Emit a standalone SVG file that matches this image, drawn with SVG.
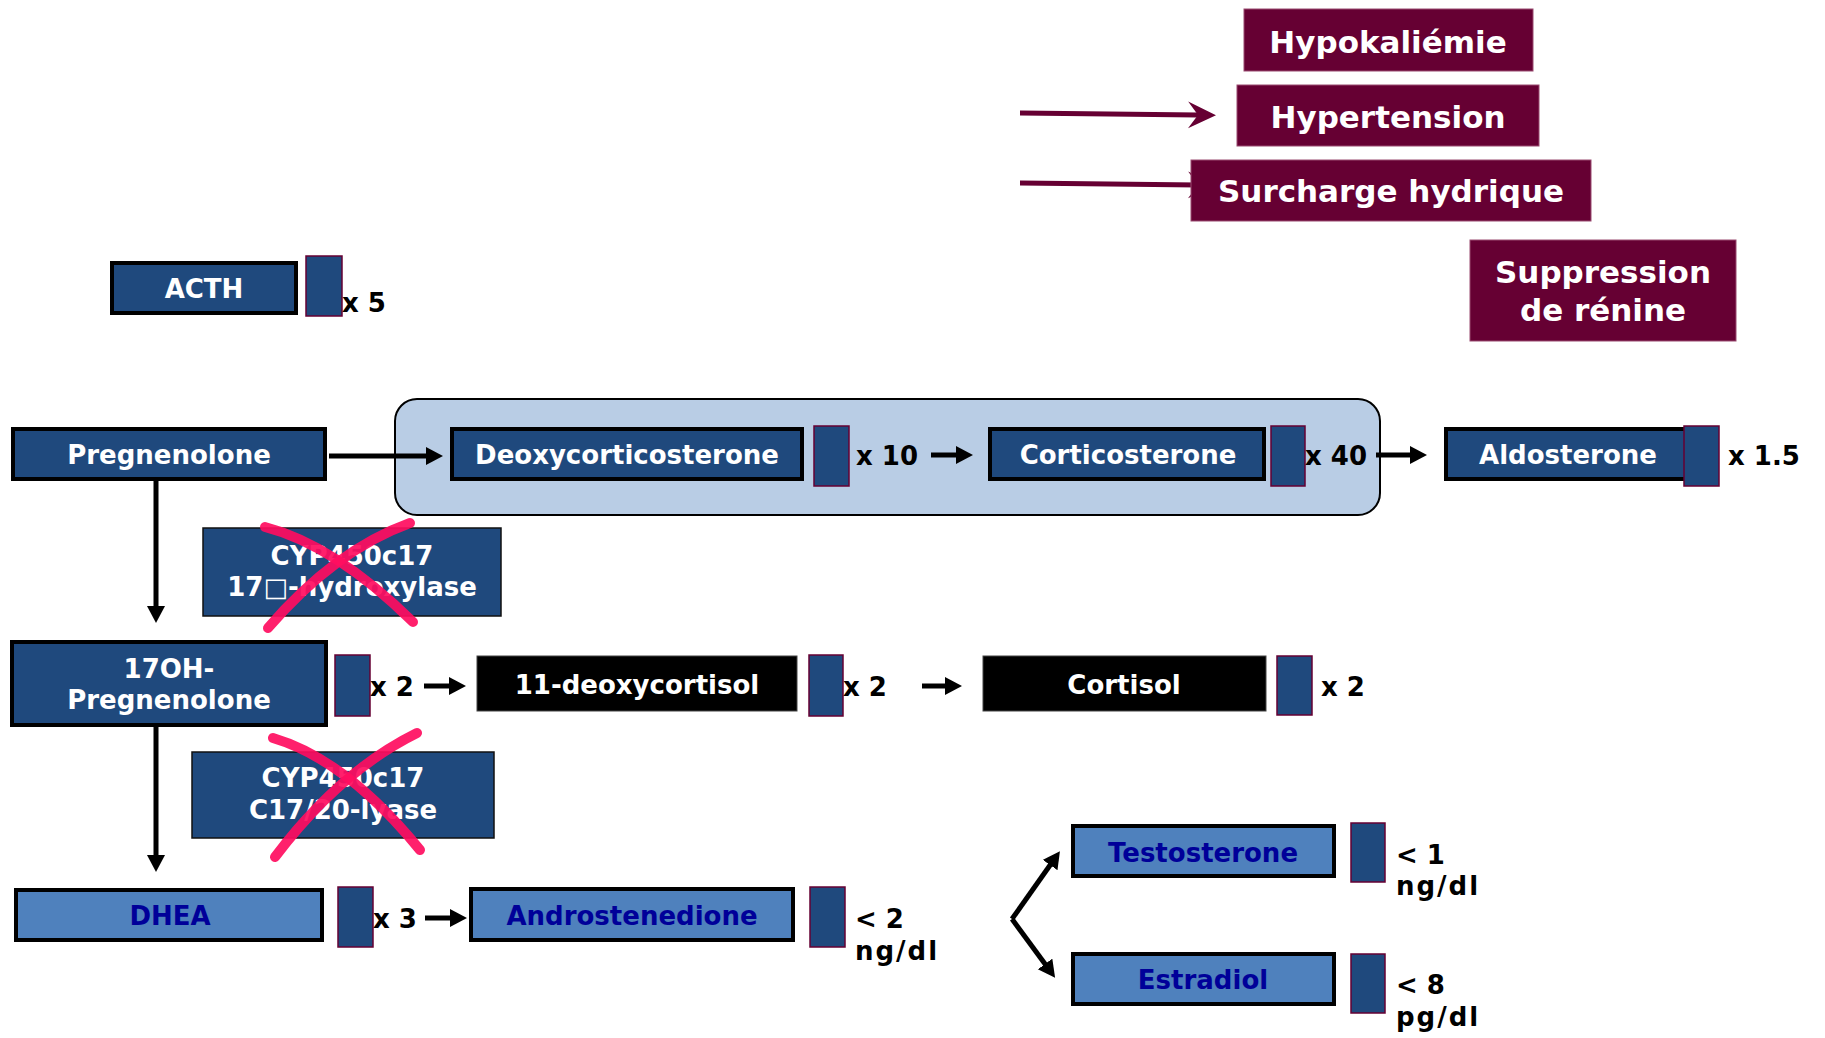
<svg xmlns="http://www.w3.org/2000/svg" width="1825" height="1038" viewBox="0 0 1825 1038">
<style>
text{font-family:"DejaVu Sans","Verdana",sans-serif;font-weight:bold;}
.t26{font-size:26px;}
.t31{font-size:31px;fill:#fff;text-anchor:middle;}
.w{fill:#fff;text-anchor:middle;}
.nv{fill:#000099;text-anchor:middle;}
.k{fill:#000;}
.sp{letter-spacing:2px;}
.dark{fill:#1F497D;stroke:#000;stroke-width:4;}
.light{fill:#4F81BD;stroke:#000;stroke-width:4;}
.enz{fill:#1F497D;stroke:#111;stroke-width:1.5;}
.blk{fill:#000;stroke:#444;stroke-width:1;}
.sq{fill:#1F497D;stroke:#660033;stroke-width:1.5;}
.mar{fill:#660033;stroke:#9A4A70;stroke-width:1;}
.conn{stroke:#000;stroke-width:5;fill:none;marker-end:url(#ah);}
.mconn{stroke:#660033;stroke-width:5;fill:none;marker-end:url(#mh);}
.cross{stroke:#FF0D5F;stroke-width:10;stroke-linecap:round;fill:none;opacity:0.92;}
</style>
<defs>
<marker id="ah" markerUnits="userSpaceOnUse" markerWidth="20" markerHeight="20" refX="5" refY="9" orient="auto">
<path d="M0,0 L17,9 L0,18 z" fill="#000"/>
</marker>
<marker id="mh" markerUnits="userSpaceOnUse" markerWidth="30" markerHeight="30" refX="10" refY="13.5" orient="auto">
<path d="M0,0 L28,13.5 L0,27 L10,13.5 z" fill="#660033"/>
</marker>
</defs>

<rect id="container" x="395" y="399" width="985" height="116" rx="22" ry="22" fill="#B9CDE5" stroke="#000" stroke-width="2"/>

<g id="connectors">
<line class="mconn" x1="1020" y1="113" x2="1198" y2="115"/>
<line class="mconn" x1="1020" y1="183" x2="1198" y2="185"/>
<line class="conn" x1="329" y1="456" x2="431" y2="456"/>
<line class="conn" x1="931" y1="455" x2="961" y2="455"/>
<line class="conn" x1="1376" y1="455" x2="1415" y2="455"/>
<line class="conn" x1="156" y1="481" x2="156" y2="611"/>
<line class="conn" x1="156" y1="727" x2="156" y2="860"/>
<line class="conn" x1="424" y1="686" x2="454" y2="686"/>
<line class="conn" x1="922" y1="686" x2="950" y2="686"/>
<line class="conn" x1="425" y1="918" x2="455" y2="918"/>
<line class="conn" x1="1012" y1="919" x2="1053" y2="861"/>
<line class="conn" x1="1012" y1="919" x2="1048" y2="968"/>
</g>

<g id="hypokaliemie"><rect class="mar" x="1244" y="9" width="289" height="62"/><text class="t31" x="1388" y="53">Hypokaliémie</text></g>
<g id="hypertension"><rect class="mar" x="1237" y="85" width="302" height="61"/><text class="t31" x="1388" y="128">Hypertension</text></g>
<g id="surcharge"><rect class="mar" x="1191" y="160" width="400" height="61"/><text class="t31" x="1391" y="202">Surcharge hydrique</text></g>
<g id="suppression"><rect class="mar" x="1470" y="240" width="266" height="101"/><text class="t31" x="1603" y="283">Suppression</text><text class="t31" x="1603" y="321">de rénine</text></g>

<g id="acth"><rect class="dark" x="112" y="263" width="184" height="50"/><text class="t26 w" x="204" y="298">ACTH</text><rect class="sq" x="306" y="256" width="36" height="60"/><text class="t26 k" x="342" y="312">x 5</text></g>

<g id="pregnenolone"><rect class="dark" x="13" y="429" width="312" height="50"/><text class="t26 w" x="169" y="464">Pregnenolone</text></g>

<g id="deoxycorticosterone"><rect class="dark" x="452" y="429" width="350" height="50"/><text class="t26 w" x="627" y="464">Deoxycorticosterone</text><rect class="sq" x="814" y="426" width="35" height="60"/><text class="t26 k" x="856" y="465">x 10</text></g>

<g id="corticosterone"><rect class="dark" x="990" y="429" width="274" height="50"/><text class="t26 w" x="1128" y="464">Corticosterone</text><rect class="sq" x="1271" y="426" width="34" height="60"/><text class="t26 k" x="1305" y="465">x 40</text></g>

<g id="aldosterone"><rect class="dark" x="1446" y="429" width="240" height="50"/><text class="t26 w" x="1568" y="464">Aldosterone</text><rect class="sq" x="1684" y="426" width="35" height="60"/><text class="t26 k" x="1728" y="465">x 1.5</text></g>

<g id="cyp-hydroxylase"><rect class="enz" x="203" y="528" width="298" height="88"/><text class="t26 w" x="352" y="565">CYP450c17</text><text class="t26 w" x="352" y="596">17□-hydroxylase</text>
<path class="cross" d="M265,527 Q335,545 413,622"/><path class="cross" d="M410,523 Q335,550 268,628"/></g>

<g id="oh-pregnenolone"><rect class="dark" x="12" y="642" width="314" height="83"/><text class="t26 w" x="169" y="678">17OH-</text><text class="t26 w" x="169" y="709">Pregnenolone</text><rect class="sq" x="335" y="655" width="35" height="61"/><text class="t26 k" x="370" y="696">x 2</text></g>

<g id="deoxycortisol"><rect class="blk" x="477" y="656" width="320" height="55"/><text class="t26 w" x="637" y="694">11-deoxycortisol</text><rect class="sq" x="809" y="655" width="34" height="61"/><text class="t26 k" x="843" y="696">x 2</text></g>

<g id="cortisol"><rect class="blk" x="983" y="656" width="283" height="55"/><text class="t26 w" x="1124" y="694">Cortisol</text><rect class="sq" x="1277" y="656" width="35" height="59"/><text class="t26 k" x="1321" y="696">x 2</text></g>

<g id="cyp-lyase"><rect class="enz" x="192" y="752" width="302" height="86"/><text class="t26 w" x="343" y="787">CYP450c17</text><text class="t26 w" x="343" y="819">C17/20-lyase</text>
<path class="cross" d="M273,738 Q347,760 420,850"/><path class="cross" d="M417,733 Q340,771 275,857"/></g>

<g id="dhea"><rect class="light" x="16" y="890" width="306" height="50"/><text class="t26 nv" x="170" y="925">DHEA</text><rect class="sq" x="338" y="887" width="35" height="60"/><text class="t26 k" x="373" y="928">x 3</text></g>

<g id="androstenedione"><rect class="light" x="471" y="889" width="322" height="51"/><text class="t26 nv" x="632" y="925">Androstenedione</text><rect class="sq" x="810" y="887" width="35" height="60"/><text class="t26 k" x="855" y="928">&lt; 2</text><text class="t26 k sp" x="855" y="960">ng/dl</text></g>

<g id="testosterone"><rect class="light" x="1073" y="826" width="261" height="50"/><text class="t26 nv" x="1203" y="862">Testosterone</text><rect class="sq" x="1351" y="823" width="34" height="59"/><text class="t26 k" x="1396" y="864">&lt; 1</text><text class="t26 k sp" x="1396" y="895">ng/dl</text></g>

<g id="estradiol"><rect class="light" x="1073" y="954" width="261" height="50"/><text class="t26 nv" x="1203" y="989">Estradiol</text><rect class="sq" x="1351" y="954" width="34" height="59"/><text class="t26 k" x="1396" y="994">&lt; 8</text><text class="t26 k sp" x="1396" y="1026">pg/dl</text></g>
</svg>
